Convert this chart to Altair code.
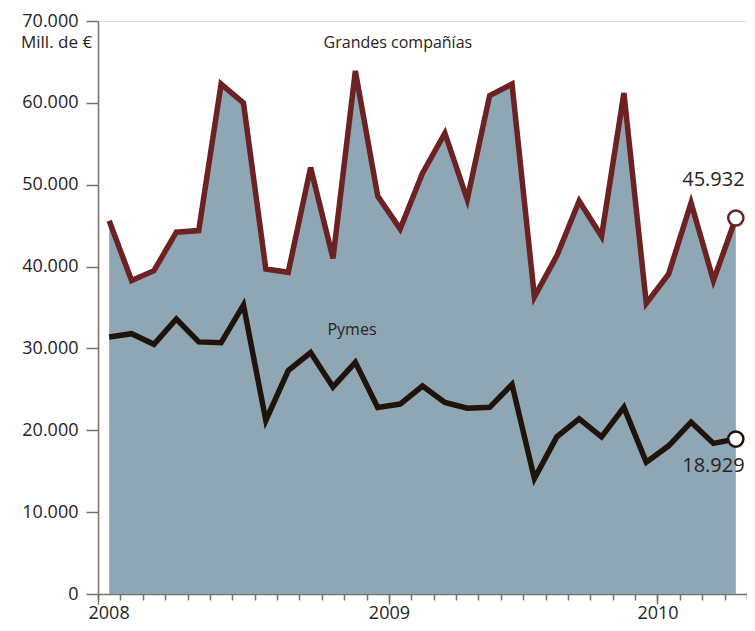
import altair as alt
import pandas as pd

# Monthly values (millions of euros), Jan 2008 .. May 2010
months = list(range(29))
grandes = [45.6, 38.3, 39.5, 44.2, 44.4, 62.3, 60.0, 39.7, 39.3, 52.1, 41.0, 63.9,
           48.6, 44.6, 51.4, 56.3, 48.2, 60.9, 62.3, 36.3, 41.3, 48.0, 43.7, 61.2,
           35.5, 39.1, 47.8, 38.3, 45.932]
pymes = [31.4, 31.8, 30.5, 33.6, 30.8, 30.7, 35.3, 21.2, 27.3, 29.5, 25.3, 28.3,
         22.8, 23.2, 25.4, 23.4, 22.7, 22.8, 25.6, 14.1, 19.2, 21.4, 19.2, 22.8,
         16.1, 18.1, 21.0, 18.4, 18.929]

year_labels = ["2008", "2009", "2010"]
major_ticks = [-0.5, 12.5, 24.5]
minor_ticks = [i - 0.5 for i in range(30)]
y_ticks = [0, 10000, 20000, 30000, 40000, 50000, 60000, 70000]

series_names = ["Grandes compañías", "Pymes"]
series_label_x = [12.9, 10.85]
series_label_y = [67300, 32200]

end_texts = ["45.932", "18.929"]
end_label_x = [27.0, 27.0]
end_label_y = [50600, 15600]

df = pd.DataFrame({
    "m": months,
    "grandes": [v * 1000 for v in grandes],
    "pymes": [v * 1000 for v in pymes],
})
last = df[df["m"] == months[-1]]

FONT = "Open Sans"
AX = "#7a6f69"
TXT = "#2a221c"
RED = "#6c2123"
DARK = "#1f130b"
FILL = "#8fa6b5"

xs = alt.Scale(domain=[-0.5, 28.5], nice=False, zero=False)
ys = alt.Scale(domain=[0, 70000], nice=False)

label_expr = ("datum.value == -0.5 ? '%s' : datum.value == 12.5 ? '%s' : "
              "datum.value == 24.5 ? '%s' : ''") % tuple(year_labels)

major_axis = alt.Axis(values=major_ticks, labelExpr=label_expr, tickSize=10,
                      tickColor=AX, tickWidth=1.5, domainColor=AX, domainWidth=1.5,
                      labelFont=FONT, labelFontSize=18, labelColor=TXT,
                      labelPadding=0, labelFlush=True, labelFlushOffset=10,
                      grid=False, title=None, orient="bottom")
minor_axis = alt.Axis(values=minor_ticks, labels=False, tickSize=6, tickColor=AX,
                      tickWidth=1.5, domain=False, grid=False,
                      title=None, orient="bottom")
y_axis = alt.Axis(values=y_ticks,
                  labelExpr="replace(format(datum.value, ','), ',', '.')",
                  tickSize=12, tickColor=AX, tickWidth=1.5, domainColor=AX,
                  domainWidth=1.5, labelFont=FONT, labelFontSize=18, labelColor=TXT,
                  labelPadding=8, grid=False, title=None)

base = alt.Chart(df)

area = base.mark_area(color=FILL, opacity=1).encode(
    x=alt.X("m:Q", scale=xs, axis=major_axis),
    y=alt.Y("grandes:Q", scale=ys, axis=y_axis),
)
line_g = base.mark_line(color=RED, strokeWidth=5.5).encode(
    x=alt.X("m:Q", scale=xs, axis=minor_axis),
    y=alt.Y("grandes:Q", scale=ys, axis=y_axis),
)
line_p = base.mark_line(color=DARK, strokeWidth=5.5).encode(
    x=alt.X("m:Q", scale=xs, axis=None),
    y=alt.Y("pymes:Q", scale=ys, axis=y_axis),
)
pt_g = alt.Chart(last).mark_point(shape="circle", filled=True, fill="white",
                                  stroke=RED, strokeWidth=2.5, size=230, opacity=1).encode(
    x=alt.X("m:Q", scale=xs, axis=None),
    y=alt.Y("grandes:Q", scale=ys, axis=y_axis),
)
pt_p = alt.Chart(last).mark_point(shape="circle", filled=True, fill="white",
                                  stroke=DARK, strokeWidth=2.5, size=230, opacity=1).encode(
    x=alt.X("m:Q", scale=xs, axis=None),
    y=alt.Y("pymes:Q", scale=ys, axis=y_axis),
)

series_df = pd.DataFrame({"t": series_names, "x": series_label_x, "y": series_label_y})
series_txt = alt.Chart(series_df).mark_text(font=FONT, fontSize=16, color=TXT,
                                            align="center", baseline="middle").encode(
    x=alt.X("x:Q", scale=xs, axis=None),
    y=alt.Y("y:Q", scale=ys, axis=y_axis),
    text="t:N",
)
end_df = pd.DataFrame({"t": end_texts, "x": end_label_x, "y": end_label_y})
end_txt = alt.Chart(end_df).mark_text(font=FONT, fontSize=20, color=TXT,
                                      align="center", baseline="middle").encode(
    x=alt.X("x:Q", scale=xs, axis=None),
    y=alt.Y("y:Q", scale=ys, axis=y_axis),
    text="t:N",
)
unit_txt = alt.Chart(pd.DataFrame({"t": ["Mill. de €"]})).mark_text(
    font=FONT, fontSize=17, color=TXT, align="left", baseline="middle").encode(
    x=alt.value(-77), y=alt.value(22), text="t:N")

chart = alt.layer(area, line_g, line_p, pt_g, pt_p, series_txt, end_txt, unit_txt).resolve_axis(
    x="independent"
).properties(
    width=649, height=573,
    autosize=alt.AutoSizeParams(type="none"),
    padding={"left": 90, "top": 13, "right": 0, "bottom": 29},
).configure_view(strokeWidth=0, strokeOpacity=0).configure(background="white")

chart.save("out.html", embed_options={"renderer": "svg", "actions": False})
